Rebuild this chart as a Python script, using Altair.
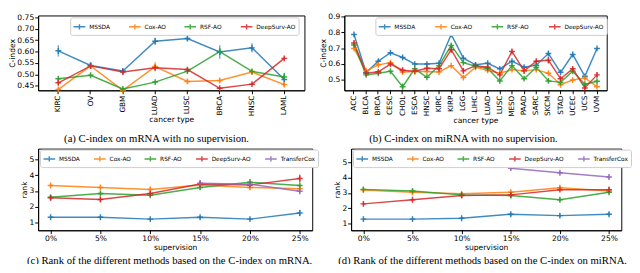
import altair as alt
import pandas as pd

# ---------------- data ----------------
methods4 = ["MSSDA", "Cox-AO", "RSF-AO", "DeepSurv-AO"]
methods5 = ["MSSDA", "Cox-AO", "RSF-AO", "DeepSurv-AO", "TransferCox"]
colors5 = ["#1f77b4", "#ff7f0e", "#2ca02c", "#d62728", "#9467bd"]

mrna_types = ["KIRC", "OV", "GBM", "LUAD", "LUSC", "BRCA", "HNSC", "LAML"]
mrna_mssda = [0.603, 0.539, 0.515, 0.645, 0.657, 0.598, 0.616, 0.477]
mrna_cox = [0.434, 0.537, 0.430, 0.534, 0.469, 0.473, 0.510, 0.455]
mrna_rsf = [0.481, 0.496, 0.436, 0.466, 0.514, 0.600, 0.513, 0.488]
mrna_deep = [0.463, 0.537, 0.510, 0.529, 0.521, 0.439, 0.457, 0.570]
mrna_mssda_err = [0.025, 0.015, 0.010, 0.015, 0.010, 0.030, 0.020, 0.030]
mrna_cox_err = [0.005, 0.010, 0.010, 0.020, 0.010, 0.008, 0.010, 0.008]
mrna_rsf_err = [0.008, 0.006, 0.005, 0.005, 0.005, 0.015, 0.010, 0.015]
mrna_deep_err = [0.008, 0.010, 0.010, 0.010, 0.008, 0.005, 0.005, 0.008]

mirna_types = ["ACC", "BLCA", "BRCA", "CESC", "CHOL", "ESCA", "HNSC", "KIRC", "KIRP", "LGG", "LIHC",
               "LUAD", "LUSC", "MESO", "PAAD", "SARC", "SKCM", "STAD", "UCEC", "UCS", "UVM"]
mirna_mssda = [0.786, 0.546, 0.618, 0.671, 0.641, 0.600, 0.600, 0.605, 0.786, 0.637, 0.595,
               0.605, 0.570, 0.618, 0.580, 0.593, 0.666, 0.548, 0.660, 0.523, 0.698]
mirna_cox = [0.698, 0.557, 0.595, 0.609, 0.550, 0.553, 0.553, 0.550, 0.590, 0.515, 0.580,
             0.560, 0.542, 0.565, 0.557, 0.565, 0.542, 0.470, 0.500, 0.513, 0.458]
mirna_rsf = [0.719, 0.532, 0.542, 0.555, 0.458, 0.570, 0.517, 0.590, 0.717, 0.609, 0.586,
             0.572, 0.494, 0.590, 0.508, 0.580, 0.494, 0.485, 0.555, 0.473, 0.492]
mirna_deep = [0.732, 0.542, 0.551, 0.600, 0.561, 0.555, 0.574, 0.570, 0.690, 0.557, 0.590,
              0.580, 0.532, 0.679, 0.557, 0.618, 0.624, 0.508, 0.570, 0.450, 0.532]
mirna_mssda_err = [0.008, 0.006, 0.012, 0.006, 0.006, 0.005, 0.005, 0.006, 0.008, 0.006, 0.005,
                   0.006, 0.005, 0.006, 0.006, 0.005, 0.010, 0.006, 0.006, 0.006, 0.006]
mirna_cox_err = [0.010, 0.006, 0.006, 0.006, 0.008, 0.005, 0.005, 0.005, 0.005, 0.006, 0.005,
                 0.005, 0.005, 0.006, 0.005, 0.005, 0.005, 0.006, 0.006, 0.006, 0.006]
mirna_rsf_err = [0.010, 0.006, 0.008, 0.006, 0.020, 0.006, 0.006, 0.008, 0.010, 0.008, 0.005,
                 0.006, 0.008, 0.010, 0.006, 0.006, 0.010, 0.008, 0.008, 0.010, 0.010]
mirna_deep_err = [0.015, 0.008, 0.008, 0.010, 0.015, 0.006, 0.008, 0.010, 0.015, 0.015, 0.008,
                  0.008, 0.008, 0.010, 0.008, 0.008, 0.020, 0.010, 0.010, 0.015, 0.015]

supervision = [0, 5, 10, 15, 20, 25]
rank_mrna = {
    "MSSDA": [1.33, 1.33, 1.21, 1.33, 1.21, 1.60],
    "Cox-AO": [3.35, 3.23, 3.10, 3.39, 3.23, 3.14],
    "RSF-AO": [2.60, 2.84, 2.73, 3.23, 3.56, 3.35],
    "DeepSurv-AO": [2.57, 2.46, 2.84, 3.45, 3.39, 3.80],
    "TransferCox": [None, None, None, 3.50, 3.43, 2.98],
}
rank_mrna_err = {
    "MSSDA": [0.08, 0.08, 0.05, 0.08, 0.05, 0.20],
    "Cox-AO": [0.10, 0.10, 0.12, 0.10, 0.15, 0.12],
    "RSF-AO": [0.10, 0.10, 0.10, 0.15, 0.20, 0.12],
    "DeepSurv-AO": [0.15, 0.15, 0.12, 0.15, 0.15, 0.25],
    "TransferCox": [None, None, None, 0.20, 0.15, 0.12],
}
rank_mirna = {
    "MSSDA": [1.28, 1.28, 1.34, 1.60, 1.51, 1.60],
    "Cox-AO": [3.19, 3.04, 2.94, 3.04, 3.34, 3.13],
    "RSF-AO": [3.23, 3.13, 2.87, 2.83, 2.55, 3.04],
    "DeepSurv-AO": [2.28, 2.55, 2.83, 2.87, 3.21, 3.21],
    "TransferCox": [None, None, None, 4.62, 4.32, 4.04],
}
rank_mirna_err = {
    "MSSDA": [0.06, 0.06, 0.08, 0.10, 0.08, 0.12],
    "Cox-AO": [0.10, 0.10, 0.10, 0.15, 0.15, 0.12],
    "RSF-AO": [0.10, 0.10, 0.10, 0.10, 0.15, 0.10],
    "DeepSurv-AO": [0.10, 0.10, 0.10, 0.15, 0.10, 0.20],
    "TransferCox": [None, None, None, 0.12, 0.12, 0.12],
}

# ---------------- styling ----------------
PLUS = "M-1,0L1,0M0,-1L0,1"
LEG_SYM = "M-1,0L1,0M0,-0.45L0,0.45"
FONT = "DejaVu Sans"
SERIF = "Liberation Serif"


def cindex_df(types, series, errs):
    rows = []
    for m, vals, es in zip(methods4, series, errs):
        for t, v, e in zip(types, vals, es):
            rows.append({"type": t, "method": m, "value": v, "lo": v - e, "hi": v + e})
    return pd.DataFrame(rows)


def rank_df(series, errs):
    rows = []
    for m in methods5:
        for s, v, e in zip(supervision, series[m], errs[m]):
            if v is None:
                continue
            rows.append({"sup": s, "method": m, "value": v, "lo": v - e, "hi": v + e})
    return pd.DataFrame(rows)


def legend(n, x, y, colpad):
    return alt.Legend(
        orient="none", legendX=x, legendY=y, direction="horizontal", columns=n,
        title=None, labelFontSize=6, labelFont=FONT, labelColor="black",
        symbolType=LEG_SYM, symbolSize=144, symbolStrokeWidth=1.5,
        columnPadding=colpad, padding=2.5, strokeColor="#cccccc", fillColor="white",
        cornerRadius=2, labelOffset=3, rowPadding=0, labelLimit=200,
    )


def panel(df, xfield, xscale, xaxis, yscale, yaxis, ytitle, methods, colors, leg, width, height,
          caption, cap_offset):
    color_scale = alt.Scale(domain=methods, range=colors)
    base = alt.Chart(df)
    line = base.mark_line(strokeWidth=1.5, opacity=0.85).encode(
        x=alt.X(xfield, scale=xscale, axis=xaxis),
        y=alt.Y("value:Q", scale=yscale, axis=yaxis, title=ytitle),
        color=alt.Color("method:N", scale=color_scale, legend=leg, sort=methods),
    )
    err = base.mark_rule(strokeWidth=1.5, opacity=0.6).encode(
        x=alt.X(xfield, scale=xscale, axis=xaxis),
        y=alt.Y("lo:Q", scale=yscale, axis=yaxis, title=ytitle),
        y2="hi:Q",
        color=alt.Color("method:N", scale=color_scale, legend=None),
    )
    pts = base.mark_point(shape=PLUS, size=36, strokeWidth=1.5, filled=False, opacity=0.9).encode(
        x=alt.X(xfield, scale=xscale, axis=xaxis),
        y=alt.Y("value:Q", scale=yscale, axis=yaxis, title=ytitle),
        color=alt.Color("method:N", scale=color_scale, legend=None),
    )
    return alt.layer(line, err, pts).properties(
        width=width, height=height,
        title=alt.TitleParams(caption, orient="bottom", font=SERIF, fontSize=11,
                              fontWeight="normal", color="black", frame="bounds",
                              anchor="middle", offset=cap_offset),
    )


def yaxis(values, fmt):
    return alt.Axis(values=values, format=fmt, titleFontWeight="normal",
                    labelOverlap=False, titlePadding=0.5, labelPadding=1)


def xaxis_cat(title):
    return alt.Axis(title=title, labelAngle=270, titleFontWeight="normal", labelOverlap=False,
                    labelFontSize=7.5, titlePadding=0)


# (a)
df_a = cindex_df(mrna_types, [mrna_mssda, mrna_cox, mrna_rsf, mrna_deep],
                 [mrna_mssda_err, mrna_cox_err, mrna_rsf_err, mrna_deep_err])
chart_a = panel(
    df_a, "type:N",
    alt.Scale(domain=mrna_types, padding=0.25), xaxis_cat("cancer type"),
    alt.Scale(domain=[0.43, 0.758], nice=False, zero=False),
    yaxis([0.45, 0.5, 0.55, 0.6, 0.65, 0.7, 0.75], ".2f"), "C-index",
    methods4, colors5[:4], legend(4, 33, 2, 16), 274, 77,
    "(a) C-index on mRNA with no supervision.", 10,
)

# (b)
df_b = cindex_df(mirna_types, [mirna_mssda, mirna_cox, mirna_rsf, mirna_deep],
                 [mirna_mssda_err, mirna_cox_err, mirna_rsf_err, mirna_deep_err])
chart_b = panel(
    df_b, "type:N",
    alt.Scale(domain=mirna_types, padding=0.6), xaxis_cat("cancer type"),
    alt.Scale(domain=[0.435, 0.905], nice=False, zero=False),
    yaxis([0.5, 0.6, 0.7, 0.8, 0.9], ".1f"), "C-index",
    methods4, colors5[:4], legend(4, 32, 2, 17), 270, 77,
    "(b) C-index on miRNA with no supervision.", 10,
)

# (c)
df_c = rank_df(rank_mrna, rank_mrna_err)
x_scale = alt.Scale(domain=[-1.25, 26.25], nice=False)
x_axis = alt.Axis(title="supervision", values=supervision, titleFontWeight="normal",
                  labelExpr="datum.value + '%'", labelOverlap=False)
chart_c = panel(
    df_c, "sup:Q", x_scale, x_axis,
    alt.Scale(domain=[0.5, 5.7], nice=False, zero=False),
    yaxis([1, 2, 3, 4, 5], "d"), "rank",
    methods5, colors5, legend(5, 2, 1, 11), 282, 84,
    "(c) Rank of the different methods based on the C-index on mRNA.", 4,
)

# (d)
df_d = rank_df(rank_mirna, rank_mirna_err)
chart_d = panel(
    df_d, "sup:Q", x_scale, x_axis,
    alt.Scale(domain=[0.55, 5.9], nice=False, zero=False),
    yaxis([1, 2, 3, 4, 5], "d"), "rank",
    methods5, colors5, legend(5, 2, 1, 11), 278, 84,
    "(d) Rank of the different methods based on the C-index on miRNA.", 4,
)

row1 = alt.hconcat(chart_a, chart_b, spacing=14).resolve_scale(color="independent").resolve_legend(color="independent")
row2 = alt.hconcat(chart_c, chart_d, spacing=14).resolve_scale(color="independent").resolve_legend(color="independent")

chart = alt.vconcat(row1, row2, spacing=2).resolve_scale(color="independent").resolve_legend(
    color="independent"
).properties(
    padding={"left": 0, "right": 0, "top": 0, "bottom": -7}, background="white"
).configure_view(
    stroke="black", strokeWidth=1
).configure_axis(
    grid=False, labelFont=FONT, titleFont=FONT, labelFontSize=7.8, titleFontSize=7.8,
    titleFontWeight="normal", tickSize=3.5, labelPadding=1.5, titlePadding=1,
    domainColor="black", tickColor="black", labelColor="black", titleColor="black",
    domainWidth=1, tickWidth=1, labelOverlap=False,
)

chart.save("out.html", embed_options={"renderer": "svg", "actions": False})
